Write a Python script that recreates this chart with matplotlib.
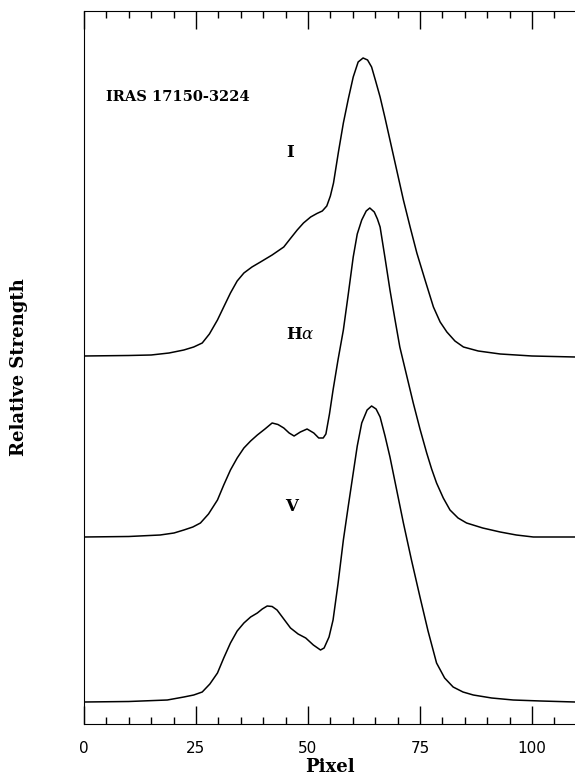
import numpy as np
import matplotlib
matplotlib.use("Agg")
from matplotlib import pyplot as plt
from matplotlib.ticker import MultipleLocator

# traced profiles, y in arbitrary (stacked) units
i_x = [0, 10, 15, 19, 22.3, 24.5, 26.4, 28.0, 29.8, 31.3, 32.7, 34.2, 35.7,
       37.5, 39.4, 42.0, 44.6, 46.0, 47.6, 49.0, 50.6, 52.0, 53.2, 54.2, 55.0,
       55.7, 56.8, 57.9, 59.0, 60.1, 61.2, 62.3, 63.3, 64.2, 65.1, 66.1, 67.2,
       68.3, 69.8, 71.3, 72.8, 74.3, 76.2, 78.0, 79.5, 81.0, 82.8, 84.7, 88.0,
       92.9, 100.0, 109.6]
i_y = [368, 368.5, 369, 371, 374, 377, 381, 390, 404, 418, 431, 443, 451,
       457, 462, 469, 477, 485, 494, 501, 507, 510.5, 513, 518, 528,
       541, 572, 601, 625, 647, 662, 666, 664, 657, 643, 627, 606,
       584, 554, 524, 497, 471, 443, 417, 402, 392, 383, 377, 373,
       370, 368, 367]

ha_x = [0, 10, 17, 20.1, 22.3, 24.3, 26.0, 27.8, 29.8, 31.2, 32.7, 34.2, 35.7,
        37.2, 38.7, 40.4, 42.0, 43.3, 44.6, 45.8, 46.9, 48.3, 49.8, 51.3, 52.4,
        53.4, 54.0, 54.8, 55.6, 56.7, 57.9, 59.0, 60.1, 61.0, 62.0, 63.0, 63.8,
        64.8, 65.5, 66.1, 67.2, 68.3, 69.4, 70.5, 72.0, 73.5, 75.0, 76.5, 77.6,
        78.7, 80.2, 81.7, 83.5, 85.4, 89.0, 92.9, 96.5, 100.3, 109.6]
ha_y = [187, 187.5, 189, 191, 194, 197, 201, 210, 224, 239, 254, 266, 276,
        283, 289, 295, 301, 299.5, 296, 291, 288, 292, 295, 291, 286,
        286, 290, 310, 334, 364, 394, 430, 467, 490, 504, 513, 516,
        512, 505, 497, 466, 434, 405, 377, 349, 321, 295, 271, 255,
        241, 226, 214, 206, 201, 196, 192, 189, 187, 187]

v_x = [0, 10, 18.6, 22.3, 24.5, 26.4, 28.1, 29.8, 31.2, 32.7, 34.2, 35.7, 37.2,
       38.7, 39.8, 40.9, 42.0, 43.1, 44.6, 46.1, 47.8, 49.5, 51.2, 52.8, 53.6,
       54.7, 55.6, 56.7, 57.9, 59.0, 60.1, 61.0, 62.0, 63.2, 64.2, 65.2, 66.1,
       67.2, 68.3, 69.8, 71.3, 73.1, 75.0, 76.8, 78.7, 80.5, 82.4, 84.6, 86.9,
       91.0, 95.8, 102.0, 109.6]
v_y = [22, 22.5, 24, 27, 29, 32, 40, 51, 66, 81, 93, 101, 107,
       111, 115, 118, 117.5, 114, 105, 96, 90, 86, 79, 74, 76,
       87, 104, 140, 184, 218, 251, 278, 301, 314, 318, 315, 307,
       288, 267, 234, 201, 164, 127, 93, 61, 46, 37, 32, 29,
       26, 24, 23, 22]

labels = ["I", r"H$\alpha$", "V"]
label_pos = [(46.0, 571), (48.2, 389), (46.4, 217)]
title = "IRAS 17150-3224"

plt.rcParams["mathtext.fontset"] = "dejavuserif"

fig = plt.figure(figsize=(5.75, 7.79), dpi=100)
ax = fig.add_axes([0.146, 0.0706, 0.854, 0.9153])

for xs, ys in [(i_x, i_y), (ha_x, ha_y), (v_x, v_y)]:
    ax.plot(xs, ys, color="black", lw=1.1, solid_joinstyle="round")

for lab, (lx, ly) in zip(labels, label_pos):
    ax.text(lx, ly, lab, ha="center", va="center", fontsize=12,
            fontweight="bold", family="DejaVu Serif")
ax.text(4.9, 627, title, ha="left", va="center", fontsize=10.5,
        fontweight="bold", family="DejaVu Serif")

ax.set_xlim(0, 109.6)
ax.set_ylim(0, 713)
ax.spines["right"].set_visible(False)
ax.xaxis.set_major_locator(MultipleLocator(25))
ax.xaxis.set_minor_locator(MultipleLocator(5))
ax.tick_params(axis="x", which="both", direction="in", top=True, width=1)
ax.tick_params(axis="x", which="major", length=13, pad=12, labelsize=11)
ax.tick_params(axis="x", which="minor", length=5)
ax.set_yticks([])
for lbl in ax.get_xticklabels():
    lbl.set_family("DejaVu Sans")

ax.set_xlabel("Pixel", fontsize=13, fontweight="bold", family="DejaVu Serif",
              labelpad=2)
ax.set_ylabel("Relative Strength", fontsize=13, fontweight="bold",
              family="DejaVu Serif", labelpad=40)

fig.savefig("out.png", dpi=100)
